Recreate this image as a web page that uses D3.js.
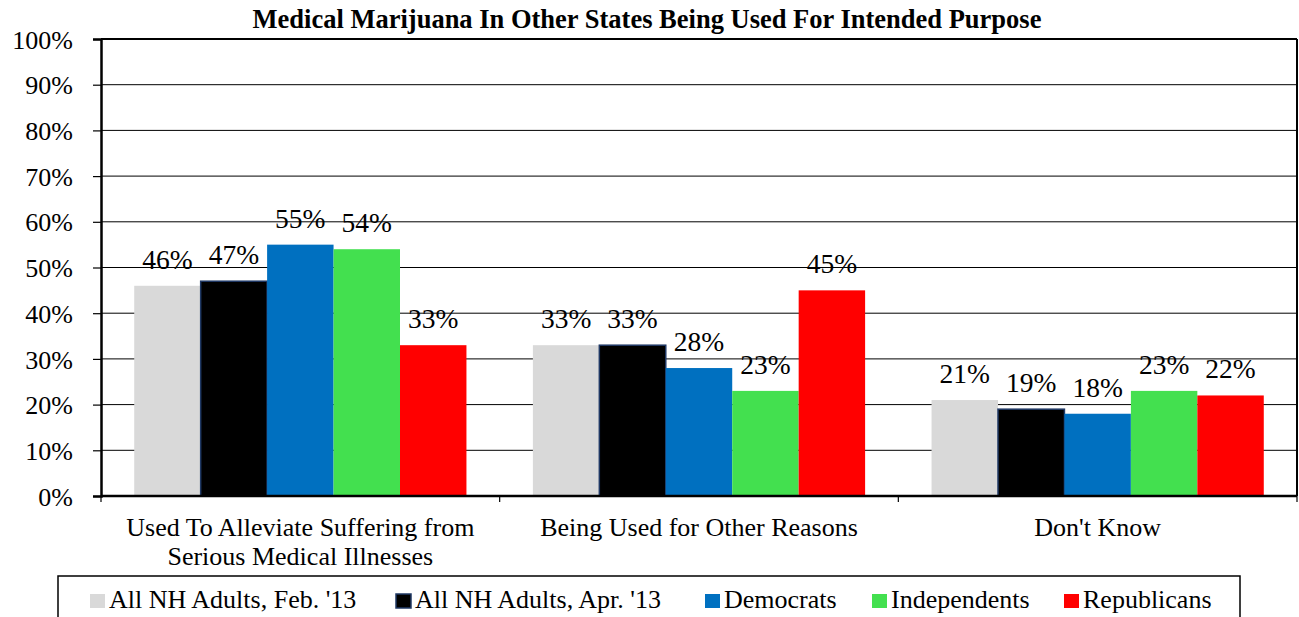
<!DOCTYPE html>
<html><head><meta charset="utf-8">
<script src="https://cdn.jsdelivr.net/npm/d3@7"></script>
<style>body{margin:0;background:#fff}svg{display:block}text{font-family:"Liberation Serif","Times New Roman","DejaVu Serif",serif !important;fill:#000}</style>
</head><body><svg id="c" width="1299" height="617"></svg>
<script>
const categories = [["Used To Alleviate Suffering from","Serious Medical Illnesses"],["Being Used for Other Reasons"],["Don't Know"]];
const seriesNames = ["All NH Adults, Feb. '13","All NH Adults, Apr. '13","Democrats","Independents","Republicans"];
const seriesColors = ["#D9D9D9","#000000","#0070C0","#43E04F","#FF0000"];
const feb13 = [46,33,21];
const apr13 = [47,33,19];
const democrats = [55,28,18];
const independents = [54,23,23];
const republicans = [33,45,22];
const yTicks = [0,10,20,30,40,50,60,70,80,90,100];
const seriesValues = [feb13,apr13,democrats,independents,republicans];

const svg = d3.select("#c");
const L=101, R=1297, T=39, B=496;
const x0 = d3.scaleBand().domain(d3.range(categories.length)).range([L,R]).paddingInner(0).paddingOuter(0);
const x1 = d3.scaleBand().domain(d3.range(seriesNames.length)).range([0,x0.bandwidth()]).paddingInner(0).paddingOuter(0.5);
const y = d3.scaleLinear().domain([0,100]).range([B,T]);

svg.append("text").attr("x",647).attr("y",28).attr("text-anchor","middle").attr("font-weight","bold").attr("font-size",26.5).text("Medical Marijuana In Other States Being Used For Intended Purpose");

// gridlines
svg.append("g").selectAll("line").data(yTicks.filter(d=>d>0&&d<100)).join("line")
 .attr("x1",L).attr("x2",R).attr("y1",d=>y(d)).attr("y2",d=>y(d)).attr("stroke","#000").attr("stroke-width",1);

// bars
const gs = svg.append("g").selectAll("g").data(seriesValues).join("g");
gs.each(function(vals,si){
  const g=d3.select(this);
  g.selectAll("rect").data(vals).join("rect")
   .attr("x",(d,ci)=>x0(ci)+x1(si)).attr("width",x1.bandwidth())
   .attr("y",d=>y(d)).attr("height",d=>B-y(d))
   .attr("fill",seriesColors[si]).attr("stroke",si===1?"#1F3864":"none").attr("stroke-width",si===1?1.5:0);
  g.selectAll("text").data(vals).join("text")
   .attr("x",(d,ci)=>x0(ci)+x1(si)+x1.bandwidth()/2).attr("y",d=>y(d)-17)
   .attr("text-anchor","middle").attr("font-size",27.5).text(d=>d+"%");
});

// plot border
svg.append("line").attr("x1",L).attr("x2",R).attr("y1",T).attr("y2",T).attr("stroke","#000").attr("stroke-width",2);
svg.append("line").attr("x1",R).attr("x2",R).attr("y1",T).attr("y2",B).attr("stroke","#000").attr("stroke-width",2);

// y axis
const ya = svg.append("g").attr("transform",`translate(${L},0)`).call(d3.axisLeft(y).tickValues(yTicks).tickFormat(d=>d+"%").tickSize(8).tickPadding(20));
ya.attr("font-family",null);
ya.select(".domain").attr("stroke-width",2.5);
ya.selectAll("text").attr("font-size",26).attr("dy","0.35em");
ya.selectAll(".tick line").attr("stroke-width",1.2);

// x axis
const xa = svg.append("g").attr("transform",`translate(0,${B})`);
xa.append("line").attr("x1",L).attr("x2",R).attr("stroke","#000").attr("stroke-width",2.5);
xa.selectAll(".tk").data(d3.range(categories.length+1)).join("line").attr("class","tk")
 .attr("x1",d=>L+d*x0.bandwidth()).attr("x2",d=>L+d*x0.bandwidth()).attr("y1",0).attr("y2",6).attr("stroke","#000").attr("stroke-width",1.2);
categories.forEach((lines,ci)=>{
  const t = xa.append("text").attr("text-anchor","middle").attr("font-size",26);
  lines.forEach((ln,li)=>t.append("tspan").attr("x",x0(ci)+x0.bandwidth()/2).attr("y",40+li*29).text(ln));
});

// legend
svg.append("rect").attr("x",58).attr("y",576).attr("width",1182).attr("height",60).attr("fill","none").attr("stroke","#000").attr("stroke-width",1.5);
const legX = [90,396,705,872,1064];
seriesNames.forEach((n,i)=>{
  const g=svg.append("g").attr("transform",`translate(${legX[i]},0)`);
  g.append("rect").attr("x",0).attr("y",594).attr("width",15).attr("height",14).attr("fill",seriesColors[i]).attr("stroke",i===1?"#1F3864":"none").attr("stroke-width",1.5);
  g.append("text").attr("x",19).attr("y",608).attr("font-size",26).text(n);
});
</script></body></html>
